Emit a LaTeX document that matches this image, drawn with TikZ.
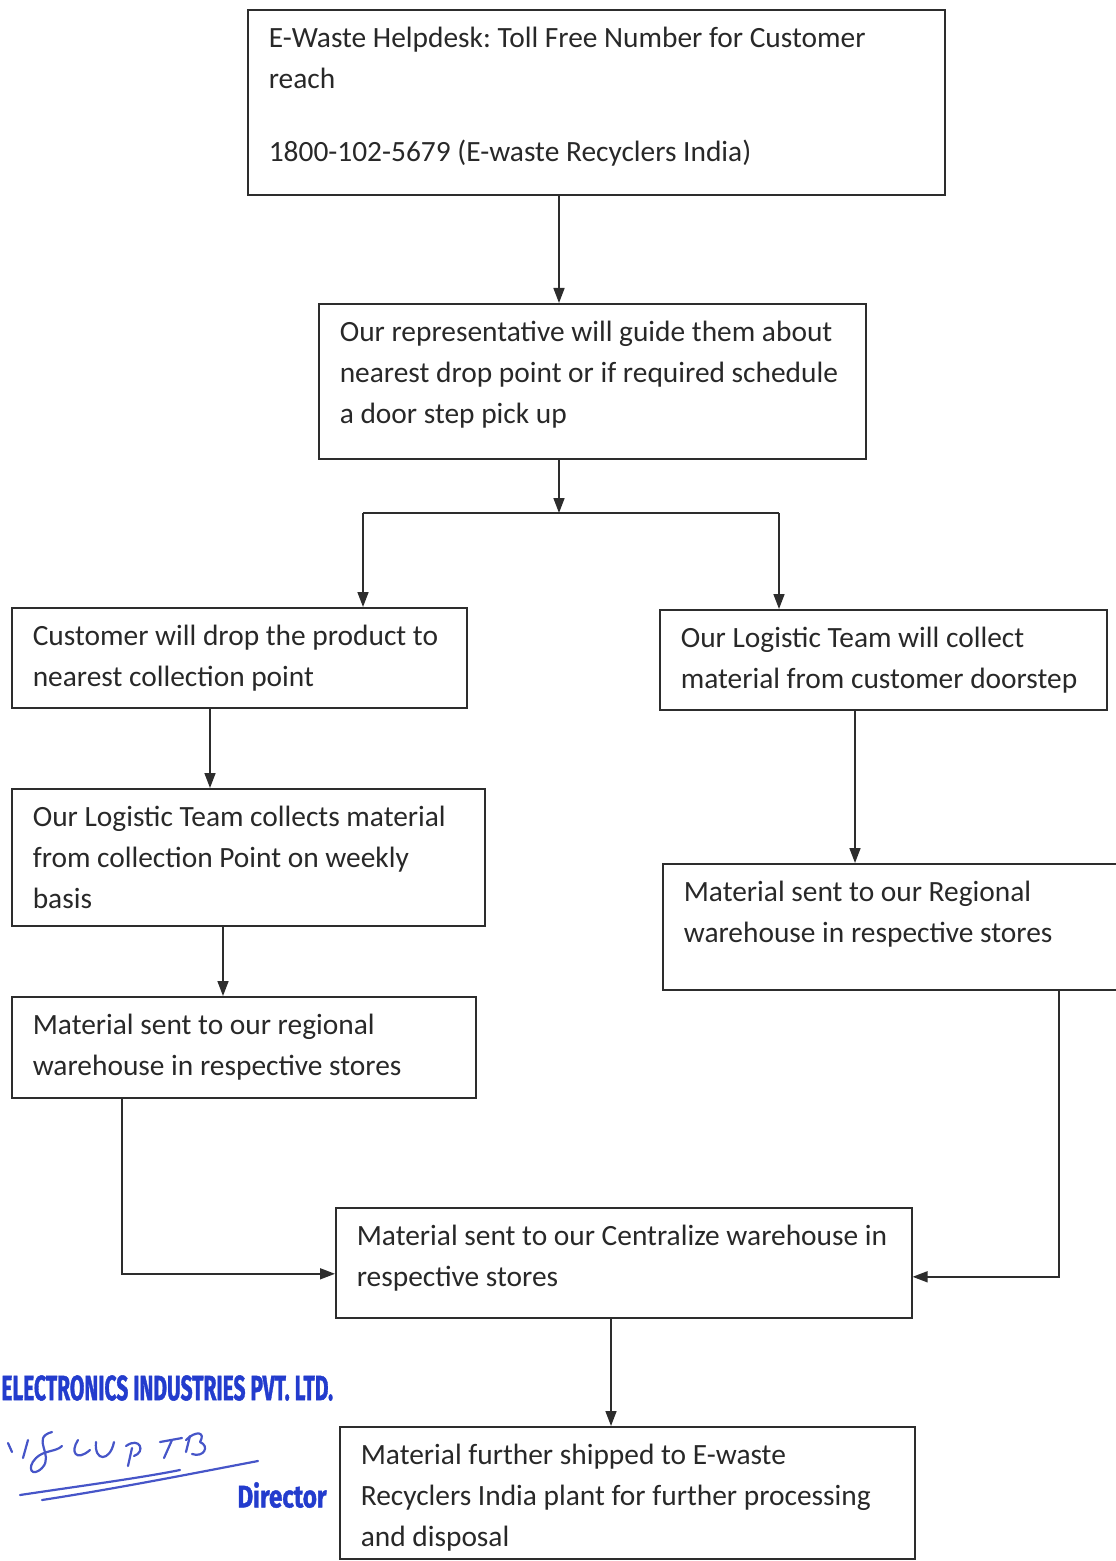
\documentclass[tikz,border=0pt]{standalone}
\usepackage{fontspec}
\setmainfont{Carlito}
\newfontfamily\stampfont[BoldFeatures={FakeBold=1.5}]{Fira Sans}
\usetikzlibrary{arrows.meta,positioning}
\frenchspacing

\definecolor{linec}{RGB}{45,45,45}
\definecolor{txtc}{RGB}{40,40,40}
\definecolor{stampc}{RGB}{35,60,205}
\definecolor{inkc}{RGB}{70,85,200}

% box text: height, width, lines (top aligned)
\newcommand{\boxtext}[3]{\parbox[c][#1][t]{#2}{\rule{0pt}{19pt}#3}}

\tikzset{
stepbox/.style={draw=linec, line width=0.8pt, anchor=north west, align=left,
  inner xsep=10.5pt, inner ysep=0pt, text=txtc,
  font=\fontsize{14.7}{20.3}\selectfont},
flow/.style={draw=linec, line width=0.8pt, -{Triangle[length=7.5pt,width=5.5pt]}},
wire/.style={draw=linec, line width=0.8pt},
ink/.style={draw=inkc, line width=1.1pt, line cap=round, line join=round}
}

\begin{document}
\begin{tikzpicture}[x=0.5pt,y=-0.5pt]
\useasboundingbox (0,0) rectangle (1115,1561);

% boxes
\node[stepbox] (help) at (247,9)
  {\boxtext{92.5pt}{327.5pt}{E-Waste Helpdesk: Toll Free Number for Customer\\reach\\[16.5pt]1800-102-5679 (E-waste Recyclers India)}};
\node[stepbox] (rep) at (318,303)
  {\boxtext{77.5pt}{252.5pt}{Our representative will guide them about\\nearest drop point or if required schedule\\a door step pick up}};
\node[stepbox] (drop) at (11,607)
  {\boxtext{50pt}{206.5pt}{Customer will drop the product to\\nearest collection point}};
\node[stepbox] (collect) at (659,609)
  {\boxtext{50pt}{202.5pt}{Our Logistic Team will collect\\material from customer doorstep}};
\node[stepbox] (weekly) at (11,788)
  {\boxtext{68.5pt}{215.5pt}{Our Logistic Team collects material\\from collection Point on weekly\\basis}};
\node[stepbox] (regL) at (11,996)
  {\boxtext{50.5pt}{211pt}{Material sent to our regional\\warehouse in respective stores}};
\node[stepbox] (regR) at (662,863)
  {\boxtext{63pt}{213pt}{Material sent to our Regional\\warehouse in respective stores}};
\node[stepbox] (central) at (335,1207)
  {\boxtext{55pt}{267pt}{Material sent to our Centralize warehouse in\\respective stores}};
\node[stepbox] (ship) at (339,1426)
  {\boxtext{66pt}{266.5pt}{Material further shipped to E-waste\\Recyclers India plant for further processing\\and disposal}};

% split points
\coordinate (split) at (559,513);
\coordinate (lsplit) at (363,513);
\coordinate (rsplit) at (779,513);

% connectors
\draw[flow] (help.south -| split) -- (rep.north -| split);
\draw[flow] (rep.south -| split) -- (split);
\draw[wire] (lsplit) -- (rsplit);
\draw[flow] (lsplit) -- (drop.north -| lsplit);
\draw[flow] (rsplit) -- (collect.north -| rsplit);
\draw[flow] ([xshift=99.5pt]drop.south west) coordinate (d1) -- (d1 |- weekly.north);
\draw[flow] ([xshift=106pt]weekly.south west) coordinate (d2) -- (d2 |- regL.north);
\draw[flow] ([xshift=98pt]collect.south west) coordinate (d3) -- (d3 |- regR.north);
\draw[flow] ([xshift=55.5pt]regL.south west) |- ([yshift=-5.5pt]central.west);
\draw[flow] ([xshift=198.5pt]regR.south west) |- ([yshift=-7pt]central.east);
\draw[flow] ([xshift=138pt]central.south west) coordinate (d4) -- (d4 |- ship.north);

% stamp
\node[anchor=west, inner sep=0pt, text=stampc] (firm) at (1,1388)
  {\scalebox{0.6}[1]{\stampfont\bfseries\fontsize{17.5}{19}\selectfont ELECTRONICS INDUSTRIES PVT. LTD.}};
\node[anchor=east, inner sep=0pt, text=stampc] (title) at (327,1495)
  {\scalebox{0.78}[1]{\stampfont\bfseries\fontsize{15.5}{17}\selectfont Director}};

% signature
\draw[ink] (8,1443) -- (12,1452);
\draw[ink] (28,1440) -- (23,1458);
\draw[ink] (52,1432) .. controls (30,1438) and (55,1455) .. (42,1468)
  .. controls (32,1478) and (26,1468) .. (36,1458) .. controls (44,1450) and (56,1452) .. (62,1446);
\draw[ink] (78,1440) .. controls (70,1452) and (76,1462) .. (90,1450);
\draw[ink] (96,1442) .. controls (94,1462) and (110,1462) .. (114,1442);
\draw[ink] (132,1448) -- (128,1466);
\draw[ink] (126,1446) .. controls (140,1436) and (146,1452) .. (134,1456);
\draw[ink] (160,1442) -- (182,1438);
\draw[ink] (172,1440) -- (164,1458);
\draw[ink] (186,1440) .. controls (196,1430) and (206,1432) .. (200,1442)
  .. controls (210,1446) and (204,1458) .. (192,1454);
\draw[ink] (190,1436) -- (186,1452);
\draw[ink] (20,1495) .. controls (80,1486) and (140,1478) .. (180,1470);
\draw[ink] (42,1500) .. controls (120,1488) and (200,1472) .. (258,1461);
\end{tikzpicture}
\end{document}
